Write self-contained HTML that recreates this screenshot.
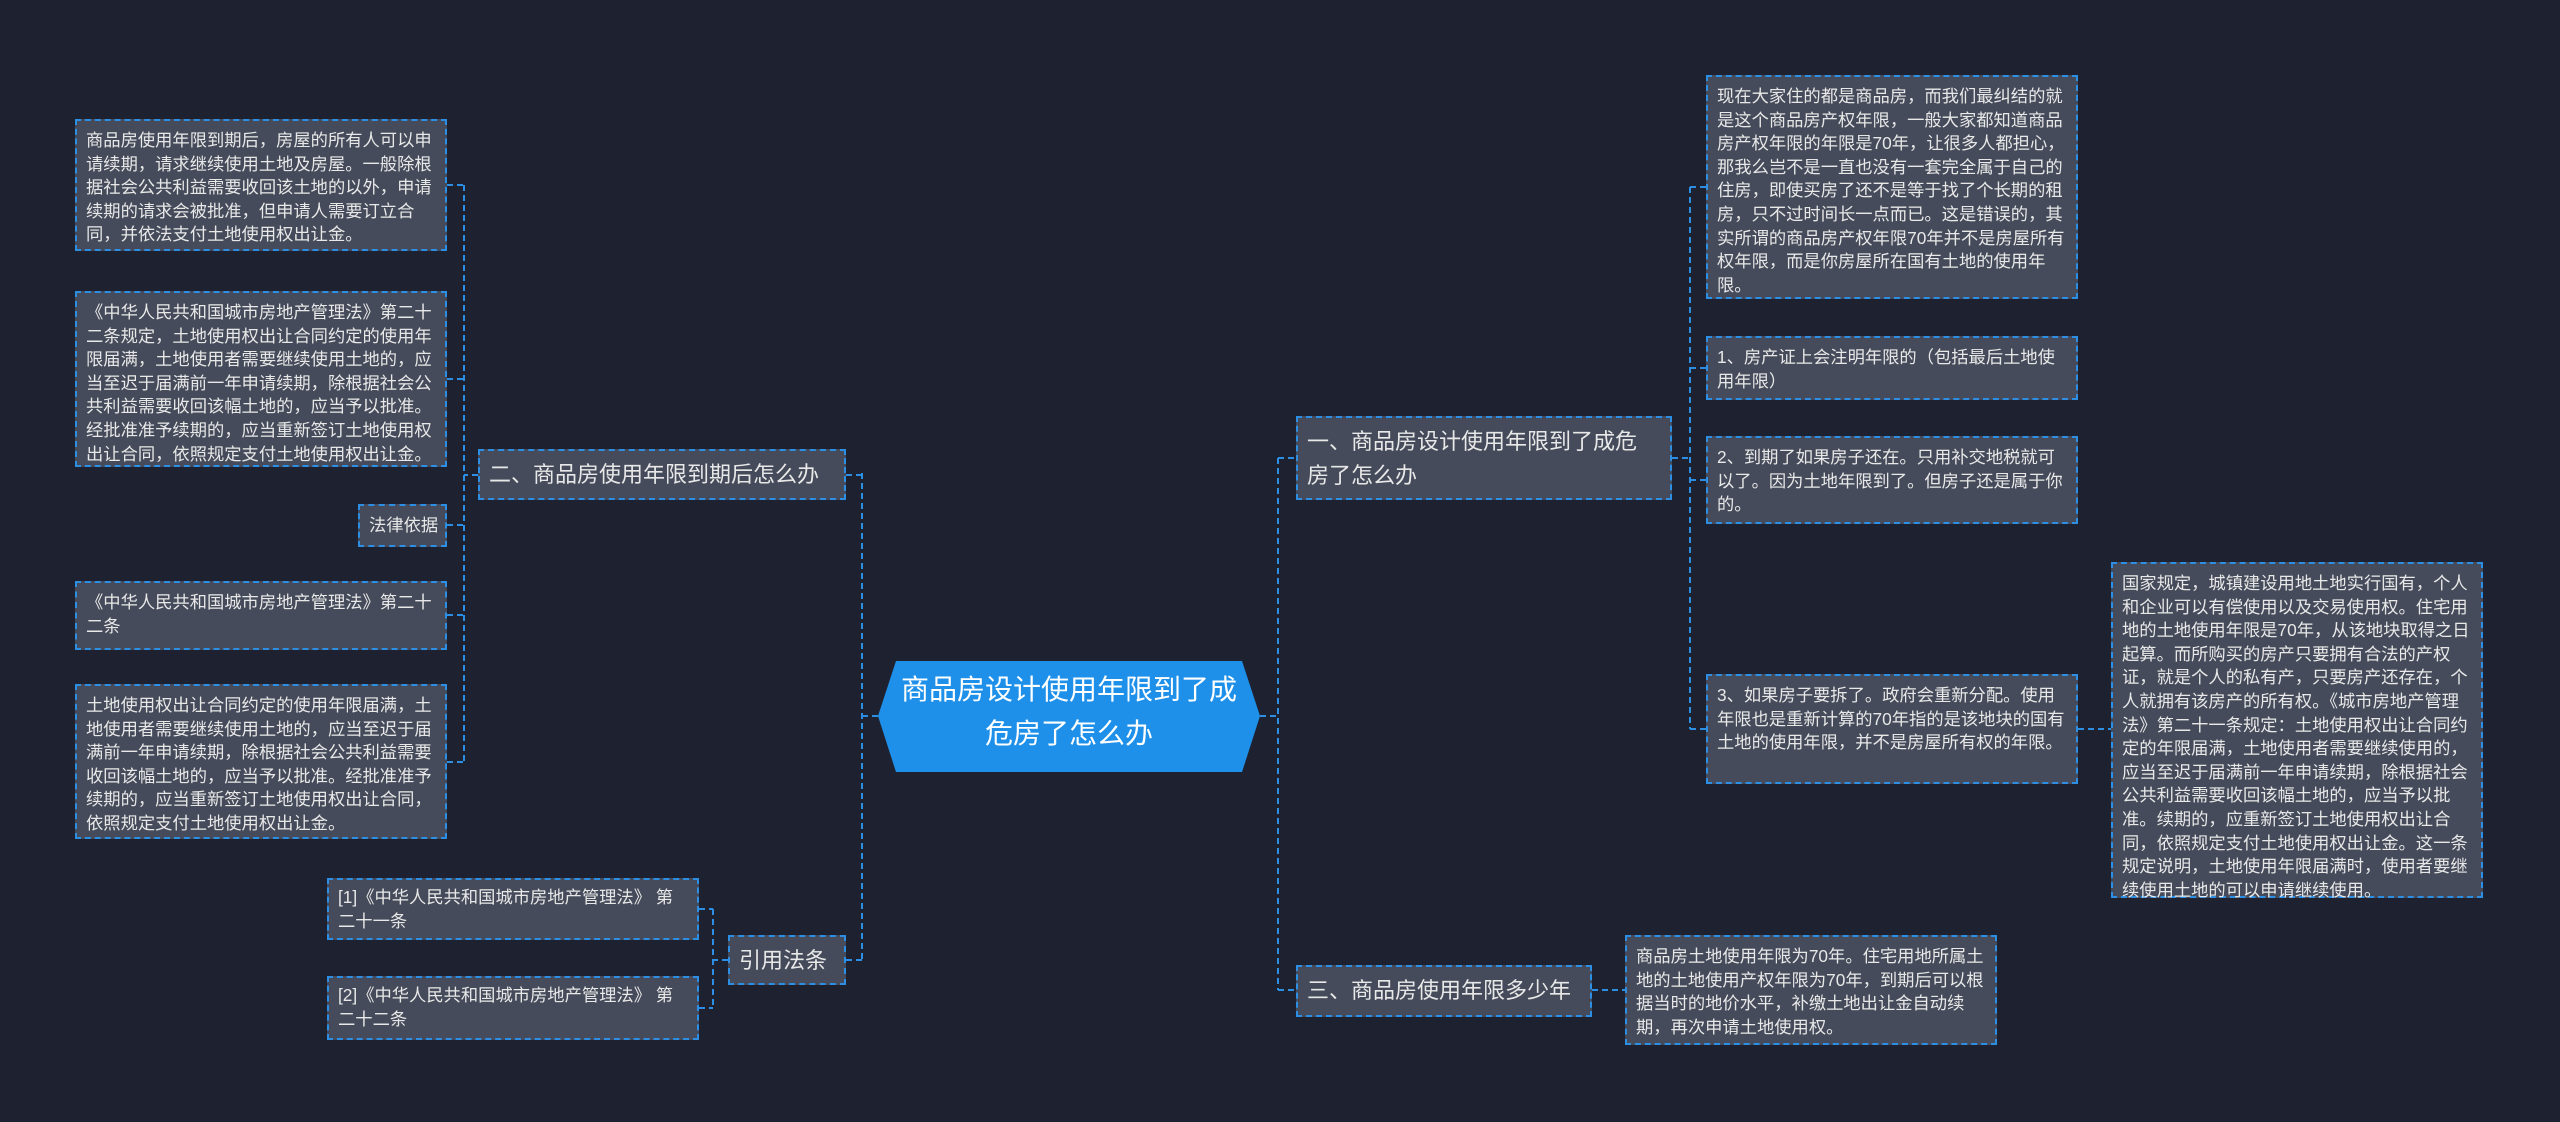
<!DOCTYPE html>
<html><head><meta charset="utf-8"><style>
body{margin:0;width:2560px;height:1122px;background:#1e2230;position:relative;overflow:hidden;font-family:"Liberation Sans","Noto Sans CJK SC",sans-serif;}
.b{position:absolute;box-sizing:border-box;background:#454b5a;border:2px dashed #2d8fe3;color:#e8e8e8;font-size:17.3px;line-height:23.6px;padding:8px 7px 8px 9px;word-break:break-all;white-space:normal;}
.l1{font-size:22px;line-height:34px;padding:7px 9px;white-space:nowrap;}
svg{position:absolute;left:0;top:0}
</style></head><body>
<svg width="2560" height="1122"><g stroke="#2d8fe3" stroke-width="2" stroke-dasharray="6,4" fill="none">
<path d="M878 716H862M862 473V960M862 475H846M862 960H846"/>
<path d="M478 475H464M464 185V762M447 185H464M447 379H464M447 525H464M447 615H464M447 762H464"/>
<path d="M728 960H713M713 909V1008M699 909H713M699 1008H713"/>
<path d="M1260 716H1278M1278 458V990M1278 458H1296M1278 990H1296"/>
<path d="M1672 458H1690M1690 187V729M1690 187H1706M1690 368H1706M1690 480H1706M1690 729H1706"/>
<path d="M2078 729H2111"/>
<path d="M1592 990H1625"/>
</g></svg>
<svg width="2560" height="1122"><polygon points="896,661 1242,661 1260,716 1242,772 896,772 878,716" fill="#1e90ea"/></svg>
<div style="position:absolute;left:894px;top:668px;width:350px;text-align:center;color:#fff;font-size:28px;line-height:44px;">商品房设计使用年限到了成危房了怎么办</div>

<div class="b l1" style="left:478px;top:449px;width:368px;height:51px;">二、商品房使用年限到期后怎么办</div>
<div class="b" style="left:75px;top:119px;width:372px;height:132px;">商品房使用年限到期后，房屋的所有人可以申请续期，请求继续使用土地及房屋。一般除根据社会公共利益需要收回该土地的以外，申请续期的请求会被批准，但申请人需要订立合同，并依法支付土地使用权出让金。</div>
<div class="b" style="left:75px;top:291px;width:372px;height:176px;">《中华人民共和国城市房地产管理法》第二十二条规定，土地使用权出让合同约定的使用年限届满，土地使用者需要继续使用土地的，应当至迟于届满前一年申请续期，除根据社会公共利益需要收回该幅土地的，应当予以批准。经批准准予续期的，应当重新签订土地使用权出让合同，依照规定支付土地使用权出让金。</div>
<div class="b" style="left:358px;top:504px;width:89px;height:43px;white-space:nowrap;">法律依据</div>
<div class="b" style="left:75px;top:581px;width:372px;height:69px;">《中华人民共和国城市房地产管理法》第二十二条</div>
<div class="b" style="left:75px;top:684px;width:372px;height:155px;">土地使用权出让合同约定的使用年限届满，土地使用者需要继续使用土地的，应当至迟于届满前一年申请续期，除根据社会公共利益需要收回该幅土地的，应当予以批准。经批准准予续期的，应当重新签订土地使用权出让合同，依照规定支付土地使用权出让金。</div>

<div class="b l1" style="left:728px;top:935px;width:118px;height:50px;">引用法条</div>
<div class="b" style="left:327px;top:878px;width:372px;height:62px;padding-top:6px;">[1]《中华人民共和国城市房地产管理法》 第二十一条</div>
<div class="b" style="left:327px;top:976px;width:372px;height:64px;padding-top:6px;">[2]《中华人民共和国城市房地产管理法》 第二十二条</div>

<div class="b l1" style="left:1296px;top:416px;width:376px;height:84px;white-space:normal;padding-right:26px;">一、商品房设计使用年限到了成危房了怎么办</div>
<div class="b" style="left:1706px;top:75px;width:372px;height:224px;">现在大家住的都是商品房，而我们最纠结的就是这个商品房产权年限，一般大家都知道商品房产权年限的年限是70年，让很多人都担心，那我么岂不是一直也没有一套完全属于自己的住房，即使买房了还不是等于找了个长期的租房，只不过时间长一点而已。这是错误的，其实所谓的商品房产权年限70年并不是房屋所有权年限，而是你房屋所在国有土地的使用年限。</div>
<div class="b" style="left:1706px;top:336px;width:372px;height:64px;">1、房产证上会注明年限的（包括最后土地使用年限）</div>
<div class="b" style="left:1706px;top:436px;width:372px;height:88px;">2、到期了如果房子还在。只用补交地税就可以了。因为土地年限到了。但房子还是属于你的。</div>
<div class="b" style="left:1706px;top:674px;width:372px;height:110px;">3、如果房子要拆了。政府会重新分配。使用年限也是重新计算的70年指的是该地块的国有土地的使用年限，并不是房屋所有权的年限。</div>
<div class="b" style="left:2111px;top:562px;width:372px;height:336px;">国家规定，城镇建设用地土地实行国有，个人和企业可以有偿使用以及交易使用权。住宅用地的土地使用年限是70年，从该地块取得之日起算。而所购买的房产只要拥有合法的产权证，就是个人的私有产，只要房产还存在，个人就拥有该房产的所有权。《城市房地产管理法》第二十一条规定：土地使用权出让合同约定的年限届满，土地使用者需要继续使用的，应当至迟于届满前一年申请续期，除根据社会公共利益需要收回该幅土地的，应当予以批准。续期的，应重新签订土地使用权出让合同，依照规定支付土地使用权出让金。这一条规定说明，土地使用年限届满时，使用者要继续使用土地的可以申请继续使用。</div>
<div class="b l1" style="left:1296px;top:965px;width:296px;height:52px;">三、商品房使用年限多少年</div>
<div class="b" style="left:1625px;top:935px;width:372px;height:110px;">商品房土地使用年限为70年。住宅用地所属土地的土地使用产权年限为70年，到期后可以根据当时的地价水平，补缴土地出让金自动续期，再次申请土地使用权。</div>
</body></html>
